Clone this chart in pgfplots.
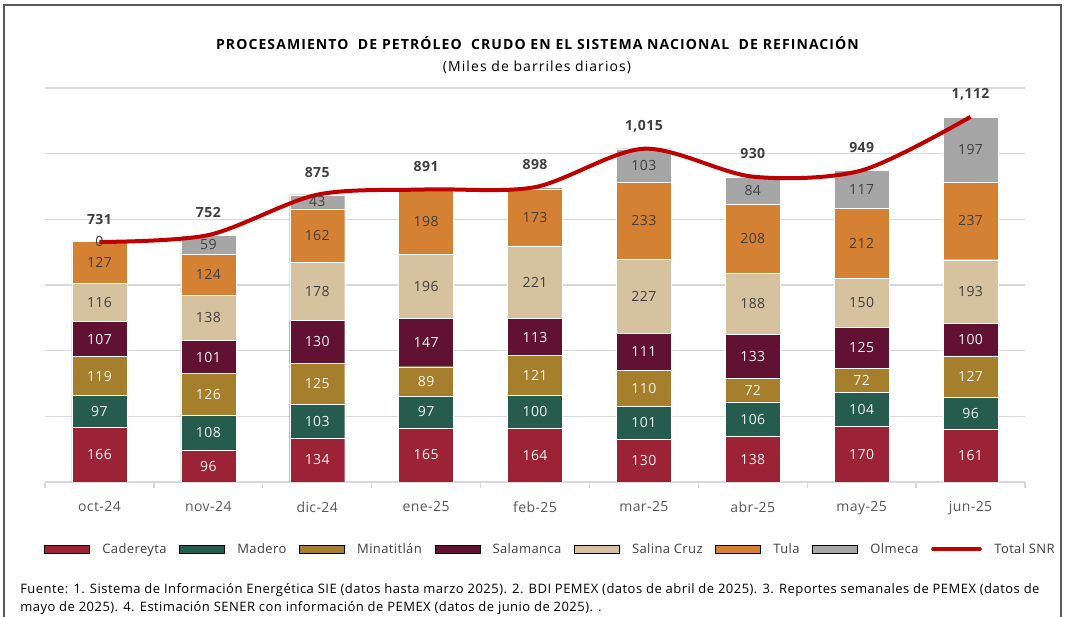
\documentclass[border=0pt]{standalone}
\usepackage{pgfplots}
\pgfplotsset{compat=1.18}
\usepackage{pgfplotstable}
\usepackage{fontspec}
\setmainfont{Open Sans}[LetterSpace=3]
\definecolor{cCad}{HTML}{9B2335}
\definecolor{cMad}{HTML}{265C4E}
\definecolor{cMin}{HTML}{A57F2C}
\definecolor{cSal}{HTML}{611232}
\definecolor{cSC}{HTML}{D6C29E}
\definecolor{cTul}{HTML}{D48133}
\definecolor{cOlm}{HTML}{A6A6A6}
\definecolor{cTot}{HTML}{C00000}
\definecolor{cGrid}{HTML}{D9D9D9}
\definecolor{cTxt}{HTML}{404040}
\definecolor{cTick}{HTML}{595959}
\newcommand\lbl{\fontsize{10.5pt}{12pt}\selectfont}

\pgfplotstableread{
x cad mad min sal sc tul olm olml total
0 166 97 119 107 116 127 0 0 731
1 96 108 126 101 138 124 59 59 752
2 134 103 125 130 178 162 43 43 875
3 165 97 89 147 196 198 0 {} 891
4 164 100 121 113 221 173 6 {} 898
5 130 101 110 111 227 233 103 103 1015
6 138 106 72 133 188 208 84 84 930
7 170 104 72 125 150 212 117 117 949
8 161 96 127 100 193 237 197 197 1112
}\datos

\pgfplotsset{
  base/.style={
    scale only axis, width=735pt, height=295.5pt,
    xmin=-0.5, xmax=8.5, ymin=0, ymax=1200,
    at={(33.75pt,101.25pt)}, anchor=south west,
  },
  seglbl/.style={draw=none, forget plot, nodes near coords, point meta=explicit symbolic,
    every node near coord/.append style={anchor=center, font=\lbl, text=#1}},
  arealeg/.style={legend image code/.code={\fill[##1] (0pt,-3.2pt) rectangle (33.75pt,3.2pt);}},
  lineleg/.style={legend image code/.code={\draw[##1, line width=3pt, line cap=round] (0pt,0pt) -- (35pt,0pt);}},
}

\begin{document}
\begin{tikzpicture}
\useasboundingbox (0,0) rectangle (798.75pt,462.75pt);
\fill[white] (0,0) rectangle (798.75pt,462.75pt);
\draw[cTick, line width=1.1pt] (3pt,-5pt) rectangle (795.75pt,459pt);

\begin{axis}[base, ybar stacked, bar width=41.25pt,
  axis x line*=bottom, axis y line*=left,
  y axis line style={draw=none}, ytick style={draw=none},
  ytick={0,200,...,1200}, yticklabels={},
  ymajorgrids, grid style={cGrid, line width=1.1pt},
  xtick={0,...,8},
  xticklabels={oct-24,nov-24,dic-24,ene-25,feb-25,mar-25,abr-25,may-25,jun-25},
  major tick length=0pt,
  minor xtick={-0.5,0.5,...,8.5}, minor tick length=4.5pt, tick align=outside,
  minor tick style={cGrid, line width=1pt},
  x axis line style={cGrid, line width=1.1pt, -},
  xticklabel style={font=\lbl, text=cTick, yshift=-11pt},
]
\addplot[fill=cCad, draw=white, line width=0.3pt] table[x=x,y=cad]{\datos};
\addplot[fill=cMad, draw=white, line width=0.3pt] table[x=x,y=mad]{\datos};
\addplot[fill=cMin, draw=white, line width=0.3pt] table[x=x,y=min]{\datos};
\addplot[fill=cSal, draw=white, line width=0.3pt] table[x=x,y=sal]{\datos};
\addplot[fill=cSC, draw=white, line width=0.3pt] table[x=x,y=sc]{\datos};
\addplot[fill=cTul, draw=white, line width=0.3pt] table[x=x,y=tul]{\datos};
\addplot[fill=cOlm, draw=white, line width=0.3pt] table[x=x,y=olm]{\datos};
\end{axis}

\begin{axis}[base, hide axis, clip=false,
  legend columns=8,
  legend style={at={(-0.001,-0.171)}, anchor=west, draw=none, fill=none,
    font=\fontsize{9.75pt}{11pt}\selectfont, text=cTxt, inner sep=0pt,
    /tikz/every odd column/.append style={column sep=7.4pt},
    /tikz/every even column/.append style={column sep=7.5pt}},
  /pgf/number format/.cd, fixed, precision=0, 1000 sep={,}, assume math mode=true,
]
\addlegendimage{arealeg, fill=cCad}\addlegendentry{Cadereyta}
\addlegendimage{arealeg, fill=cMad}\addlegendentry{Madero}
\addlegendimage{arealeg, fill=cMin}\addlegendentry{Minatitlán}
\addlegendimage{arealeg, fill=cSal}\addlegendentry{Salamanca}
\addlegendimage{arealeg, fill=cSC}\addlegendentry{Salina Cruz}
\addlegendimage{arealeg, fill=cTul}\addlegendentry{Tula}
\addlegendimage{arealeg, fill=cOlm}\addlegendentry{Olmeca}

\addplot[seglbl=white!95!black] table[x=x, y expr=\thisrow{cad}/2, meta=cad]{\datos};
\addplot[seglbl=white!95!black] table[x=x, y expr=\thisrow{cad}+\thisrow{mad}/2, meta=mad]{\datos};
\addplot[seglbl=white!95!black] table[x=x, y expr=\thisrow{cad}+\thisrow{mad}+\thisrow{min}/2, meta=min]{\datos};
\addplot[seglbl=white!95!black] table[x=x, y expr=\thisrow{cad}+\thisrow{mad}+\thisrow{min}+\thisrow{sal}/2, meta=sal]{\datos};
\addplot[seglbl=cTxt] table[x=x, y expr=\thisrow{cad}+\thisrow{mad}+\thisrow{min}+\thisrow{sal}+\thisrow{sc}/2, meta=sc]{\datos};
\addplot[seglbl=cTxt] table[x=x, y expr=\thisrow{cad}+\thisrow{mad}+\thisrow{min}+\thisrow{sal}+\thisrow{sc}+\thisrow{tul}/2, meta=tul]{\datos};
\addplot[seglbl=cTxt] table[x=x, y expr=\thisrow{cad}+\thisrow{mad}+\thisrow{min}+\thisrow{sal}+\thisrow{sc}+\thisrow{tul}+\thisrow{olm}/2, meta=olml]{\datos};

\addplot[cTot, line width=3pt, smooth, tension=0.5, lineleg]
  table[x=x,y=total]{\datos};
\addlegendentry{Total SNR}

\addplot[draw=none, forget plot, nodes near coords, point meta=y,
  every node near coord/.append style={anchor=center, yshift=17pt, font=\lbl\bfseries, text=cTxt}]
  table[x=x,y=total]{\datos};
\end{axis}

\node[font=\fontsize{10.5pt}{12pt}\selectfont\bfseries\addfontfeature{LetterSpace=7.8}, text=black] at (403.1pt,430.5pt)
  {PROCESAMIENTO \ DE PETRÓLEO \ CRUDO EN EL SISTEMA NACIONAL \ DE REFINACIÓN};
\node[font=\fontsize{10.5pt}{12pt}\selectfont\addfontfeature{LetterSpace=7.6}, text=black] at (402.75pt,412.5pt)
  {(Miles de barriles diarios)};
\node[font=\fontsize{9.75pt}{11pt}\selectfont\addfontfeature{LetterSpace=3.6}, text=black, anchor=west, inner sep=0pt] at (15pt,20.25pt)
  {Fuente: 1. Sistema de Información Energética SIE (datos hasta marzo 2025). 2. BDI PEMEX (datos de abril de 2025). 3. Reportes semanales de PEMEX (datos de};
\node[font=\fontsize{9.75pt}{11pt}\selectfont\addfontfeature{LetterSpace=3.6}, text=black, anchor=west, inner sep=0pt] at (15pt,6.75pt)
  {mayo de 2025). 4. Estimación SENER con información de PEMEX (datos de junio de 2025). .};
\end{tikzpicture}
\end{document}
